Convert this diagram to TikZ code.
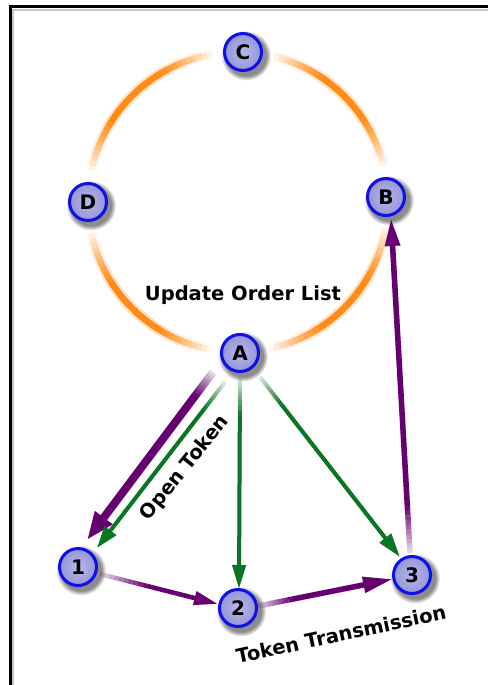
\documentclass[tikz,border=0pt]{standalone}
\usepackage{fontspec}
\newfontfamily\lblfont{DejaVu Sans}
\usetikzlibrary{arrows.meta,calc,fadings}
\definecolor{ringorange}{RGB}{255,138,20}
\definecolor{nodeblue}{RGB}{15,15,235}
\definecolor{nodefill}{RGB}{182,182,240}
\definecolor{nodefilldk}{RGB}{150,150,212}
\definecolor{tokpurple}{RGB}{102,0,112}
\definecolor{tokgreen}{RGB}{10,118,36}
\pgfdeclarelayer{bg}
\pgfsetlayers{bg,main}
\tikzset{
  station/.style={circle, draw=nodeblue, line width=3pt, minimum size=37pt, inner sep=0pt,
    inner color=nodefill, outer color=nodefilldk,
    font=\lblfont\bfseries\fontsize{20}{20}\selectfont},
  caption/.style={font=\lblfont\bfseries\fontsize{19.5}{20}\selectfont, inner sep=0pt},
  softshadow/.style={black, opacity=0.45, path fading=circle with fuzzy edge 20 percent},
}
\newcommand\tokarrow[7]{%
  \draw[black, opacity=0.16, line width=#4, shift={(2,2.5)}, -{Triangle[length=#6,width=#7]}]
    ($(#1)!#5!(#2)$) -- (#2);%
  \foreach \i in {0,...,9}{%
    \pgfmathsetmacro\ta{#5*\i/10}%
    \pgfmathsetmacro\tb{#5*(\i+1)/10}%
    \pgfmathsetmacro\op{0.12+0.88*(\i+0.5)/10}%
    \draw[#3, line width=#4, draw opacity=\op] ($(#1)!\ta!(#2)$) -- ($(#1)!\tb!(#2)$);%
  }%
  \draw[#3, line width=#4, -{Triangle[length=#6,width=#7]}] ($(#1)!#5!(#2)$) -- (#2);%
}
\begin{document}
\begin{tikzpicture}[x=1pt,y=-1pt]
\useasboundingbox (0,0) rectangle (488,685);

% nodes
\node[station] (C) at (243,52) {C};
\node[station] (D) at (88,202) {D};
\node[station] (B) at (386,197) {B};
\node[station] (A) at (240,353) {A};
\node[station] (n1) at (78,567) {1};
\node[station] (n2) at (238,608) {2};
\node[station] (n3) at (412,575) {3};

\begin{pgfonlayer}{bg}
  \fill[white] (0,0) rectangle (488,685);
  % frame
  \draw[gray!45, line width=1.5pt] (13,685) -- (13,10) -- (488,10);
  \draw[black, line width=3pt] (10,685) -- (10,7) -- (488,7);
  % ring with fading gaps at the nodes
  \coordinate (ctr) at (238,202);
  \foreach \a in {0,2,...,358}{%
    \pgfmathsetmacro\m{\a+1}%
    \pgfmathsetmacro\d{min(abs(mod(\m-358.1+540,360)-180), abs(mod(\m-271.9+540,360)-180), abs(mod(\m-180+540,360)-180), abs(mod(\m-89.2+540,360)-180))}%
    \pgfmathsetmacro\o{max(0,min(1,(\d-11)/22))}%
    \ifdim\o pt>0pt
      \draw[ringorange, line width=11pt, draw opacity=0.25*\o] (ctr) ++(\a:150) arc[start angle=\a, end angle=\a+2, radius=150];
      \draw[ringorange, line width=6.5pt, draw opacity=\o] (ctr) ++(\a:150) arc[start angle=\a, end angle=\a+2, radius=150];
    \fi
  }
  % node shadows
  \foreach \n in {A,B,C,D,n1,n2,n3}{
    \fill[softshadow] ($(\n)+(3,3.5)$) circle (25);
  }
  % arrow end points
  \coordinate (pa1s) at ($(A)+(-27,19)$);
  \coordinate (pa1e) at ($(n1)+(9,-27)$);
  \coordinate (ga1s) at ($(A)+(-15,29)$);
  \coordinate (ga1e) at ($(n1)+(19,-19)$);
  \coordinate (ga2s) at ($(A)+(0,25)$);
  \coordinate (ga2e) at ($(n2)+(1,-19)$);
  \coordinate (ga3s) at ($(A)+(20,24)$);
  \coordinate (ga3e) at ($(n3)+(-12,-18)$);
  \coordinate (p12s) at ($(n1)+(22,7)$);
  \coordinate (p12e) at ($(n2)+(-20,-4)$);
  \coordinate (p23s) at ($(n2)+(20,-2)$);
  \coordinate (p23e) at ($(n3)+(-19,4)$);
  \coordinate (p3bs) at ($(n3)+(-2,-22)$);
  \coordinate (p3be) at ($(B)+(5,21)$);
  % arrows
  \tokarrow{pa1s}{pa1e}{tokpurple}{8pt}{0.14}{28pt}{20pt}
  \tokarrow{ga1s}{ga1e}{tokgreen}{4pt}{0.16}{22pt}{14pt}
  \tokarrow{ga2s}{ga2e}{tokgreen}{4pt}{0.18}{24pt}{13pt}
  \tokarrow{ga3s}{ga3e}{tokgreen}{4pt}{0.15}{24pt}{14pt}
  \tokarrow{p12s}{p12e}{tokpurple}{4.5pt}{0.4}{24pt}{13pt}
  \tokarrow{p23s}{p23e}{tokpurple}{5.5pt}{0.25}{30pt}{15pt}
  \tokarrow{p3bs}{p3be}{tokpurple}{5.5pt}{0.14}{28pt}{14pt}
\end{pgfonlayer}

% labels
\node[caption] (uol) at (243,295) {Update Order List};
\node[caption, rotate=51] (ot) at (185,468) {Open Token};
\node[caption, rotate=12] (tt) at (341,634) {Token Transmission};
\end{tikzpicture}
\end{document}
